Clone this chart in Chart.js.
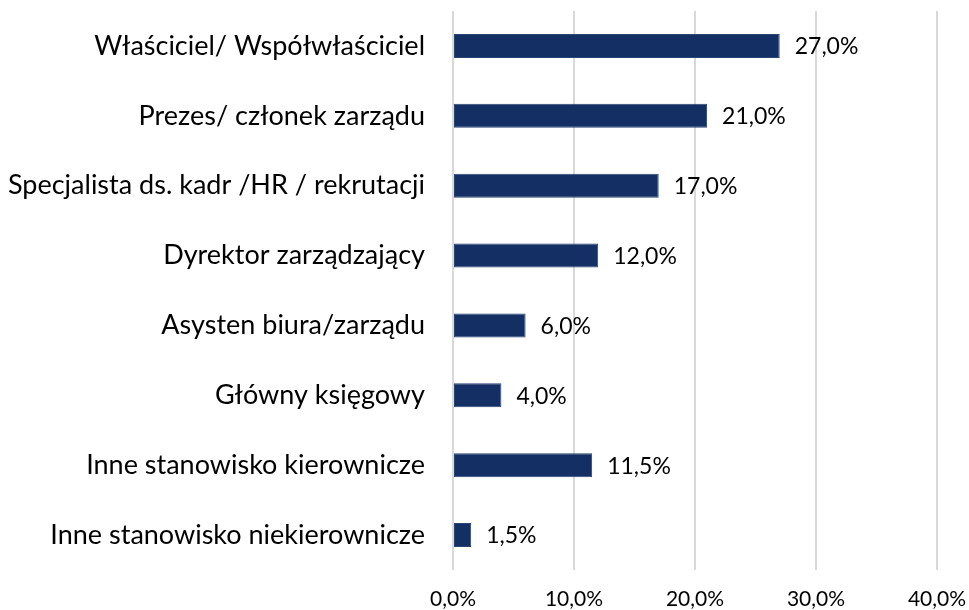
<!DOCTYPE html>
<html><head><meta charset="utf-8">
<script src="https://cdn.jsdelivr.net/npm/chart.js@4/dist/chart.umd.min.js"></script>
<style>html,body{margin:0;padding:0;background:#fff}#wrap{width:969px;height:610px}</style>
</head><body><div id="wrap"><canvas id="c" width="969" height="610"></canvas></div>
<script>
const categories = ["Właściciel/ Współwłaściciel","Prezes/ członek zarządu","Specjalista ds. kadr /HR / rekrutacji","Dyrektor zarządzający","Asysten biura/zarządu","Główny księgowy","Inne stanowisko kierownicze","Inne stanowisko niekierownicze"];
const values = [27.0, 21.0, 17.0, 12.0, 6.0, 4.0, 11.5, 1.5];
const xTicks = [0, 10, 20, 30, 40];
const fmt = v => v.toFixed(1).replace('.', ',') + '%';
const FONT = "Lato, 'Open Sans', sans-serif";
const labelPlugin = {
  id: 'vals',
  afterDatasetsDraw(chart) {
    const ctx = chart.ctx;
    const meta = chart.getDatasetMeta(0);
    ctx.save();
    ctx.font = "23px " + FONT;
    ctx.fillStyle = '#000';
    ctx.textBaseline = 'middle';
    ctx.textAlign = 'left';
    meta.data.forEach((bar, i) => {
      ctx.fillText(fmt(values[i]), bar.x + 15, bar.y + 1);
    });
    ctx.restore();
  }
};
new Chart(document.getElementById('c'), {
  type: 'bar',
  data: { labels: categories, datasets: [{ data: values, backgroundColor: '#132f63', borderColor: '#2a4675', borderWidth: 1, borderSkipped: false, categoryPercentage: 1, barPercentage: 0.345 }] },
  options: {
    indexAxis: 'y', responsive: false, animation: false,
    layout: { padding: { top: 11, right: 32, left: 0, bottom: 0 } },
    plugins: { legend: { display: false }, tooltip: { enabled: false } },
    scales: {
      x: {
        min: 0, max: 40,
        afterBuildTicks: s => { s.ticks = xTicks.map(v => ({ value: v })); },
        afterFit: s => { s.height = 40; s.paddingLeft = 0; s.paddingRight = 0; },
        grid: { color: '#d9d9d9', lineWidth: 2, drawTicks: false },
        border: { display: false },
        ticks: { padding: 17, color: '#000', font: { family: FONT, size: 21 }, callback: v => fmt(v), maxRotation: 0 }
      },
      y: {
        afterFit: s => { s.width = 453; s.paddingTop = 0; s.paddingBottom = 0; },
        grid: { display: false, drawTicks: false },
        border: { display: false },
        ticks: { padding: 28, color: '#000', font: { family: FONT, size: 27 } }
      }
    }
  },
  plugins: [labelPlugin]
});
</script></body></html>
